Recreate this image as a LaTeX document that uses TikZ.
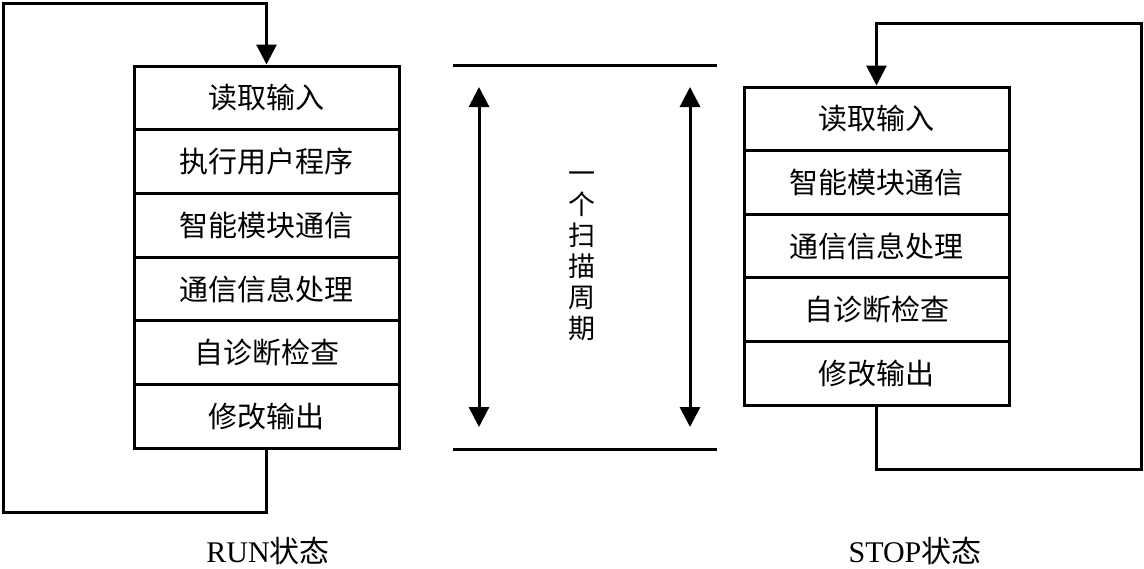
\documentclass[tikz,border=0pt]{standalone}
\usepackage{fontspec}
\setmainfont{Liberation Serif}
\newfontfamily\cjk{Noto Sans CJK SC}
\usetikzlibrary{arrows.meta}
\begin{document}
\begin{tikzpicture}[x=1pt,y=-1pt,
  rowbox/.style={draw, line width=3pt, minimum width=265pt, minimum height=63.7pt, inner sep=0pt,
    font=\cjk\fontsize{29}{31}\selectfont},
  loopline/.style={line width=3pt, -{Triangle[width=20pt,length=20pt]}},
  plainline/.style={line width=3pt},
  dblarrow/.style={line width=3pt, {Triangle[width=20pt,length=20pt]}-{Triangle[width=20pt,length=20pt]}},
  caption/.style={font=\fontsize{30}{32}\selectfont, inner sep=0pt}
]
\useasboundingbox (0,0) rectangle (1144,568);
\fill[white] (0,0) rectangle (1144,568);

% left stack (RUN)
\foreach \i/\t in {1/读取输入,2/执行用户程序,3/智能模块通信,4/通信信息处理,5/自诊断检查,6/修改输出}
  \node[rowbox] (l\i) at (266.5,{66+31.85+(\i-1)*63.7}) {\t};

% right stack (STOP)
\foreach \i/\t in {1/读取输入,2/智能模块通信,3/通信信息处理,4/自诊断检查,5/修改输出}
  \node[rowbox, minimum height=63.6pt] (r\i) at (876.5,{87+31.8+(\i-1)*63.6}) {\t};

% left loop
\coordinate (la) at (3,512);
\coordinate (lb) at (3,3);
\draw[loopline] (l6.south) -- (l6.south |- la) -- (la) -- (lb) -- (l1.north |- lb) -- (l1.north);

% right loop
\coordinate (ra) at (1141,469);
\coordinate (rb) at (1141,23);
\draw[loopline] (r5.south) -- (r5.south |- ra) -- (ra) -- (rb) -- (r1.north |- rb) -- (r1.north);

% middle scan period
\coordinate (t1) at (453,65);
\coordinate (t2) at (717,65);
\coordinate (b1) at (453,449);
\coordinate (b2) at (717,449);
\draw[plainline] (t1) -- (t2);
\draw[plainline] (b1) -- (b2);
\coordinate (a1t) at (479,87);
\coordinate (a1b) at (479,427);
\coordinate (a2t) at (690,87);
\coordinate (a2b) at (690,427);
\draw[dblarrow] (a1t) -- (a1b);
\draw[dblarrow] (a2t) -- (a2b);
\node[inner sep=0pt, align=center, font=\cjk\fontsize{27}{31}\selectfont] (period) at (582,256)
  {一\\个\\扫\\描\\周\\期};

% captions
\node[caption] (runlbl) at (268,551) {RUN{\cjk 状态}};
\node[caption] (stoplbl) at (915,551) {STOP{\cjk 状态}};
\end{tikzpicture}
\end{document}
